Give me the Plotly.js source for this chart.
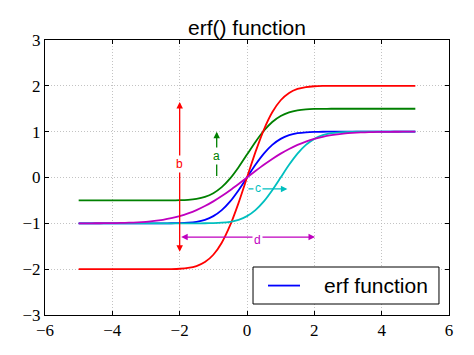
<!DOCTYPE html>
<html>
<head>
<meta charset="utf-8">
<script src="https://cdn.plot.ly/plotly-3.0.1.min.js"></script>
<style>html,body{margin:0;padding:0;background:#fff;}#chart{width:474px;height:355px;}</style>
</head>
<body>
<div id="chart"></div>
<script>
// x sample points
const xs = [-5,-4.75,-4.5,-4.25,-4,-3.75,-3.5,-3.25,-3,-2.75,-2.5,-2.25,-2,-1.75,-1.5,-1.25,-1,-0.75,-0.5,-0.25,0,
            0.25,0.5,0.75,1,1.25,1.5,1.75,2,2.25,2.5,2.75,3,3.25,3.5,3.75,4,4.25,4.5,4.75,5];
// erf(x)
const yBlue = [-1,-1,-1,-1,-1,-1,-1,-1,-1,-0.9999,-0.9996,-0.9985,-0.9953,-0.9867,-0.9661,-0.9229,-0.8427,-0.7112,-0.5205,-0.2763,0,
               0.2763,0.5205,0.7112,0.8427,0.9229,0.9661,0.9867,0.9953,0.9985,0.9996,0.9999,1,1,1,1,1,1,1,1,1];
// b: scaled
const yRed = [-2,-2,-2,-2,-2,-2,-2,-2,-2,-1.9998,-1.9992,-1.997,-1.9906,-1.9734,-1.9322,-1.8458,-1.6854,-1.4224,-1.041,-0.5526,0,
              0.5526,1.041,1.4224,1.6854,1.8458,1.9322,1.9734,1.9906,1.997,1.9992,1.9998,2,2,2,2,2,2,2,2,2];
// a: shifted up
const yGreen = [-0.5,-0.5,-0.5,-0.5,-0.5,-0.5,-0.5,-0.5,-0.5,-0.4999,-0.4996,-0.4985,-0.4953,-0.4867,-0.4661,-0.4229,-0.3427,-0.2112,-0.0205,0.2237,0.5,
                0.7763,1.0205,1.2112,1.3427,1.4229,1.4661,1.4867,1.4953,1.4985,1.4996,1.4999,1.5,1.5,1.5,1.5,1.5,1.5,1.5,1.5,1.5];
// c: shifted right
const yCyan = [-1,-1,-1,-1,-1,-1,-1,-1,-1,-1,-1,-1,-1,-0.9999,-0.9996,-0.9985,-0.9953,-0.9867,-0.9661,-0.9229,-0.8427,
               -0.7112,-0.5205,-0.2763,0,0.2763,0.5205,0.7112,0.8427,0.9229,0.9661,0.9867,0.9953,0.9985,0.9996,0.9999,1,1,1,1,1];
// d: widened
const yMagenta = [-0.9996,-0.9992,-0.9985,-0.9973,-0.9953,-0.992,-0.9867,-0.9785,-0.9661,-0.9482,-0.9229,-0.8884,-0.8427,-0.784,-0.7112,-0.6232,-0.5205,-0.4041,-0.2763,-0.1403,0,
                  0.1403,0.2763,0.4041,0.5205,0.6232,0.7112,0.784,0.8427,0.8884,0.9229,0.9482,0.9661,0.9785,0.9867,0.992,0.9953,0.9973,0.9985,0.9992,0.9996];
const xTicks = [-6,-4,-2,0,2,4,6];
const yTicks = [-3,-2,-1,0,1,2,3];

const C = {b:'#0000ff', g:'#008000', r:'#ff0000', c:'#00bfbf', m:'#bf00bf'};
const LW = 1.8;
function tr(y, col, name){
  return {x: xs, y: y, type:'scatter', mode:'lines', name: name,
          line:{color:col, width:LW, shape:'spline', smoothing:0.6}, showlegend:false, hoverinfo:'skip'};
}
const data = [
  tr(yBlue, C.b, 'erf function'),
  tr(yGreen, C.g, 'a'),
  tr(yRed, C.r, 'b'),
  tr(yCyan, C.c, 'c'),
  tr(yMagenta, C.m, 'd')
];

function arrow(x, y, ax, ay, col, both){
  return {x:x, y:y, ax:ax, ay:ay, xref:'x', yref:'y', axref:'x', ayref:'y', text:'', showarrow:true,
          arrowhead:2, startarrowhead:2, arrowside: both ? 'end+start' : 'end', arrowsize:1, startarrowsize:1,
          arrowwidth:1.3, arrowcolor:col, standoff:0, startstandoff:0};
}
function label(x, y, t, col){
  return {x:x, y:y, xref:'x', yref:'y', text:t, showarrow:false, bgcolor:'#ffffff', borderpad:1,
          font:{family:'Liberation Sans, Arial, sans-serif', size:12, color:col}};
}
const annotations = [
  arrow(-2, 1.65, -2, -1.65, C.r, true),
  label(-2, 0.3, 'b', C.r),
  arrow(-0.9, 1.0, -0.9, 0.0, C.g, false),
  label(-0.9, 0.46, 'a', C.g),
  arrow(1.2, -0.25, 0.0, -0.25, C.c, false),
  label(0.33, -0.22, 'c', C.c),
  arrow(2.02, -1.3, -2.0, -1.3, C.m, true),
  label(0.31, -1.36, 'd', C.m),
  {xref:'paper', yref:'paper', x:0.6856, y:0.107, xanchor:'left', yanchor:'middle', showarrow:false,
   text:'erf function', font:{family:'Liberation Sans, Arial, sans-serif', size:21, color:'#000'}}
];
const shapes = [
  {type:'rect', xref:'paper', yref:'paper', x0:0.5149, x1:0.9752, y0:0.04, y1:0.1745,
   line:{color:'#000', width:1}, fillcolor:'#ffffff', layer:'above'},
  {type:'line', xref:'paper', yref:'paper', x0:(268-45)/404, x1:(300-45)/404, y0:0.107, y1:0.107,
   line:{color:C.b, width:LW}, layer:'above'}
];

const axisCommon = {
  showline:true, linecolor:'#000', linewidth:1, mirror:'allticks',
  ticks:'inside', ticklen:4, tickcolor:'#000', tickwidth:1,
  showgrid:true, gridcolor:'#b4b4b4', gridwidth:0.8, griddash:'1px,2px',
  zeroline:false, fixedrange:true,
  tickfont:{family:'Liberation Serif, DejaVu Serif, serif', size:17, color:'#000'}
};
const layout = {
  width:474, height:355,
  margin:{l:45, r:25, t:40, b:40},
  paper_bgcolor:'#fff', plot_bgcolor:'#fff',
  title:{text:'erf() function', x:0.5, xref:'paper', y:1-28/355, yref:'container', yanchor:'middle',
         font:{family:'Liberation Sans, Arial, sans-serif', size:21, color:'#000'}},
  xaxis: Object.assign({}, axisCommon, {range:[-6,6], tickvals:xTicks, ticktext:xTicks.map(v=>v<0?'\u2212'+(-v):String(v))}),
  yaxis: Object.assign({}, axisCommon, {range:[-3,3], tickvals:yTicks, ticktext:yTicks.map(v=>v<0?'\u2212'+(-v):String(v))}),
  annotations: annotations,
  shapes: shapes,
  showlegend:false
};
Plotly.newPlot('chart', data, layout, {staticPlot:true, displayModeBar:false});
</script>
</body>
</html>
